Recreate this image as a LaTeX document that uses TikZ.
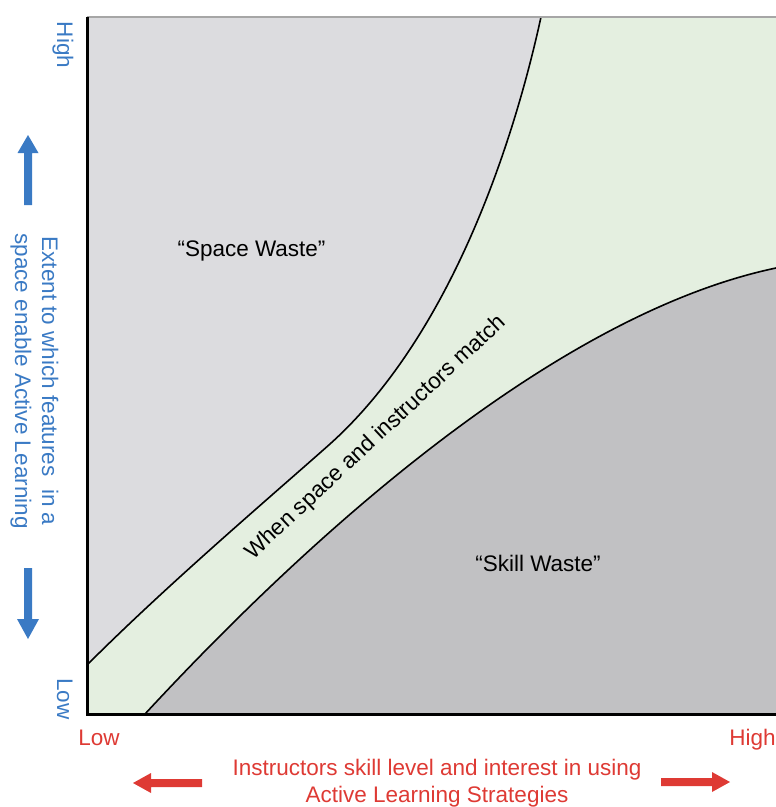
\documentclass[tikz,border=0pt]{standalone}
\usepackage{fontspec}
\setmainfont{Liberation Sans}
\definecolor{spacegray}{RGB}{220,220,223}
\definecolor{skillgray}{RGB}{193,193,195}
\definecolor{matchgreen}{RGB}{228,239,224}
\definecolor{axisblue}{RGB}{58,122,196}
\definecolor{axisred}{RGB}{222,58,52}
\begin{document}
\begin{tikzpicture}[x=1pt,y=-1pt,
  lbl/.style={font=\fontsize{22.5}{27}\selectfont, inner sep=0pt},
  bluelbl/.style={lbl, text=axisblue},
  redlbl/.style={lbl, text=axisred},
  boundary/.style={draw=black, line width=1.6pt},
  axisline/.style={draw=black, line width=3pt},
]
\useasboundingbox (0,0) rectangle (776,807);
% corner points of the curves
\coordinate (ua) at (87,665);
\coordinate (ub) at (330,444);
\coordinate (uc) at (541,17);
\coordinate (la) at (145,714);
\coordinate (lb) at (776,268);
% regions
\fill[matchgreen] (87,17) rectangle (776,714);
\fill[spacegray] (87,17) -- (uc) .. controls (526,85.6) and (470,318) .. (ub) .. controls (268,499) and (168,584) .. (ua) -- cycle;
\fill[skillgray] (la) .. controls (345,498) and (576,310) .. (lb) -- (776,714) -- cycle;
% boundaries
\draw[boundary] (ua) .. controls (168,584) and (268,499) .. (ub) .. controls (470,318) and (526,85.6) .. (uc);
\draw[boundary] (la) .. controls (345,498) and (576,310) .. (lb);
% frame
\draw[draw=gray!70, line width=1.5pt] (87,17) -- (776,17);
\draw[axisline] (87,17) -- (87,714) -- (776,714);
% region labels
\node[lbl, anchor=base] (space) at (251.5,256) {“Space Waste”};
\node[lbl, anchor=base] (skill) at (538,571) {“Skill Waste”};
\node[lbl, rotate=43] (match) at (376,438) {When space and instructors match};
% y axis
\node[bluelbl, rotate=-90, anchor=base] (yhigh) at (57,45) {High};
\node[bluelbl, rotate=-90, anchor=base] (ylow) at (57,699) {Low};
\node[bluelbl, rotate=-90, align=center] (ytitle) at (34.4,381) {Extent to which features\ \ in a\\space enable Active Learning};
\fill[axisblue] (28,135) -- (38.5,153) -- (32,153) -- (32,205) -- (24,205) -- (24,153) -- (17.5,153) -- cycle;
\fill[axisblue] (28,639) -- (39,619) -- (32,619) -- (32,568) -- (24,568) -- (24,619) -- (17,619) -- cycle;
% x axis
\node[redlbl, anchor=base] (xlow) at (99,745) {Low};
\node[redlbl, anchor=base] (xhigh) at (752.5,745) {High};
\node[redlbl, align=center] (xtitle) at (437,783) {Instructors skill level and interest in using\\Active Learning Strategies};
\fill[axisred] (133,783) -- (151,773) -- (151,779) -- (202,779) -- (202,787) -- (151,787) -- (151,793) -- cycle;
\fill[axisred] (730,782) -- (712,772) -- (712,778) -- (661,778) -- (661,786) -- (712,786) -- (712,792) -- cycle;
\end{tikzpicture}
\end{document}
